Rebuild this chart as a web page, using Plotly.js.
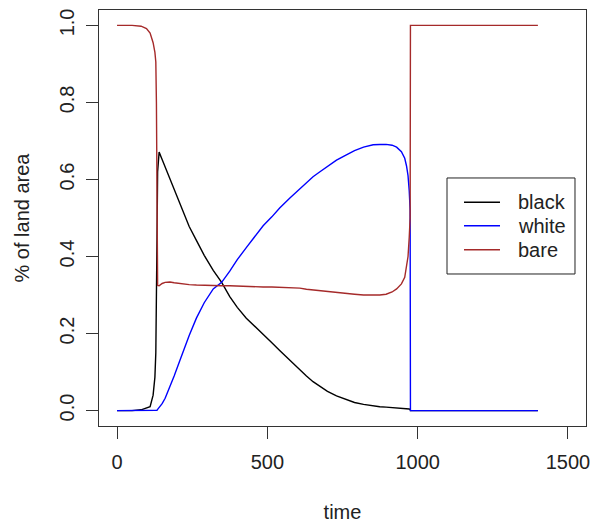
<!DOCTYPE html>
<html>
<head>
<meta charset="utf-8">
<script src="https://cdn.plot.ly/plotly-3.0.1.min.js"></script>
<style>html,body{margin:0;padding:0;background:#fff;}#chart{width:593px;height:527px;}</style>
</head>
<body>
<div id="chart"></div>
<script>
// Shared time axis
var time = [0, 50, 80, 98, 110, 120, 126, 129, 131, 133,
  135, 140, 150, 160, 176, 190, 209, 225, 240, 264,
  290, 320, 348, 375, 400, 430, 460, 486, 515, 541,
  575, 608, 630, 652, 675, 700, 730, 763, 790, 820,
  852, 874, 895, 915, 930, 946, 957, 963, 968, 972,
  975, 976, 1000, 1100, 1200, 1300, 1400];

var black = [0, 0, 0.002, 0.007, 0.010, 0.04, 0.087, 0.15, 0.25, 0.45,
  0.62, 0.671, 0.652, 0.633, 0.603, 0.575, 0.537, 0.505, 0.478, 0.442,
  0.403, 0.364, 0.333, 0.296, 0.268, 0.24, 0.218, 0.199, 0.176, 0.156,
  0.13, 0.105, 0.09, 0.075, 0.062, 0.05, 0.038, 0.028, 0.021, 0.016,
  0.012, 0.010, 0.009, 0.008, 0.007, 0.006, 0.005, 0.005, 0.004, 0.004,
  0.003, 0, 0, 0, 0, 0, 0];

var white = [0, 0, 0, 0, 0, 0, 0, 0, 0, 0.001,
  0.003, 0.008, 0.018, 0.032, 0.061, 0.09, 0.13, 0.165, 0.195, 0.24,
  0.28, 0.316, 0.333, 0.362, 0.392, 0.423, 0.454, 0.48, 0.503, 0.526,
  0.552, 0.576, 0.592, 0.607, 0.62, 0.634, 0.65, 0.664, 0.675, 0.684,
  0.690, 0.691, 0.691, 0.689, 0.684, 0.672, 0.655, 0.635, 0.61, 0.57,
  0.52, 0, 0, 0, 0, 0, 0];

var bare = [1.0, 1.0, 0.998, 0.992, 0.98, 0.955, 0.93, 0.905, 0.80, 0.55,
  0.325, 0.324, 0.33, 0.333, 0.334, 0.332, 0.33, 0.328, 0.327, 0.326,
  0.325, 0.325, 0.324, 0.324, 0.323, 0.323, 0.322, 0.321, 0.321, 0.320,
  0.319, 0.318, 0.315, 0.313, 0.311, 0.309, 0.307, 0.304, 0.302, 0.300,
  0.299, 0.300, 0.302, 0.308, 0.316, 0.329, 0.346, 0.37, 0.40, 0.45,
  0.50, 1.0, 1.0, 1.0, 1.0, 1.0, 1.0];

var seriesNames = ["black", "white", "bare"];
var seriesColors = ["#000000", "#0000ff", "#a52a2a"];
var xTicks = [0, 500, 1000, 1500];
var yTicks = [0.0, 0.2, 0.4, 0.6, 0.8, 1.0];
var yTickText = ["0.0", "0.2", "0.4", "0.6", "0.8", "1.0"];

var values = [black, white, bare];
var traces = values.map(function (v, i) {
  return {
    x: time, y: v, type: "scatter", mode: "lines", name: seriesNames[i],
    line: {color: seriesColors[i], width: 1.4}
  };
});

// Legend box (R-style), built in paper coordinates
var legBox = {x0: 0.7146, x1: 0.9774, y0: 0.3654, y1: 0.5962};
var legRows = [0.5377, 0.4815, 0.4238];
var legLine = {x0: 0.7495, x1: 0.8234};
var legTextX = 0.8563;

var shapes = [{
  type: "rect", xref: "paper", yref: "paper",
  x0: legBox.x0, x1: legBox.x1, y0: legBox.y0, y1: legBox.y1,
  line: {color: "#222", width: 1}, fillcolor: "rgba(0,0,0,0)", layer: "above"
}];
var annotations = [];
seriesNames.forEach(function (n, i) {
  shapes.push({
    type: "line", xref: "paper", yref: "paper",
    x0: legLine.x0, x1: legLine.x1, y0: legRows[i], y1: legRows[i],
    line: {color: seriesColors[i], width: 1.4}, layer: "above"
  });
  annotations.push({
    xref: "paper", yref: "paper", x: legTextX, y: legRows[i],
    xanchor: "left", yanchor: "middle", text: n, showarrow: false,
    font: {size: 20, color: "#222"}
  });
});

var fontFam = "Liberation Sans, Arial, sans-serif";
var layout = {
  width: 593, height: 527,
  margin: {l: 99, r: 7, t: 10, b: 101, pad: 0},
  paper_bgcolor: "#fff", plot_bgcolor: "#fff",
  font: {family: fontFam, size: 20, color: "#222"},
  showlegend: false,
  shapes: shapes,
  annotations: annotations,
  xaxis: {
    range: [-60, 1560], tickmode: "array", tickvals: xTicks, ticktext: xTicks.map(String),
    ticks: "outside", ticklen: 12, tickwidth: 1, tickcolor: "#333",
    ticklabelstandoff: 6,
    showline: true, linecolor: "#333", linewidth: 1, mirror: true,
    showgrid: false, zeroline: false,
    title: {text: "time", font: {size: 20}, standoff: 32}
  },
  yaxis: {
    range: [-0.04, 1.04], tickmode: "array", tickvals: yTicks, ticktext: yTickText,
    tickangle: -90,
    ticks: "outside", ticklen: 12, tickwidth: 1, tickcolor: "#333",
    ticklabelstandoff: 4,
    showline: true, linecolor: "#333", linewidth: 1, mirror: true,
    showgrid: false, zeroline: false,
    title: {text: "% of land area", font: {size: 20}, standoff: 21}
  }
};

Plotly.newPlot("chart", traces, layout, {displayModeBar: false, staticPlot: true});
</script>
</body>
</html>
